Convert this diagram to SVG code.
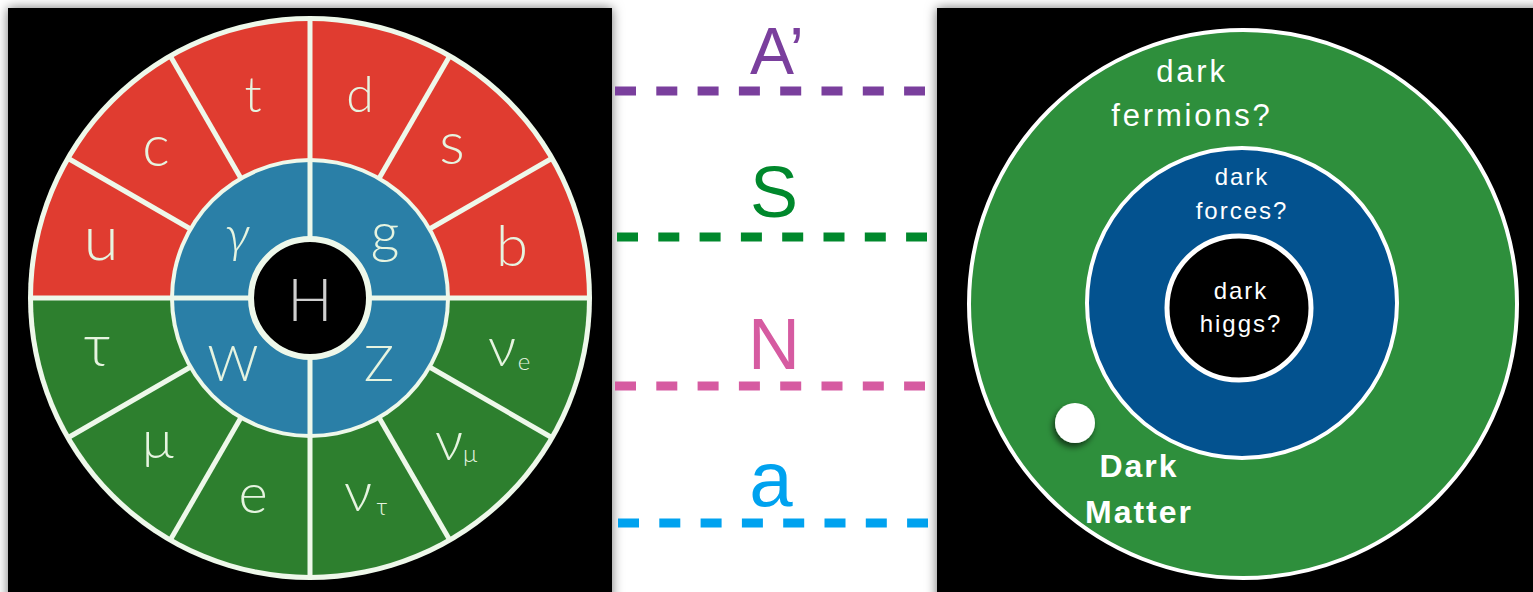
<svg xmlns="http://www.w3.org/2000/svg" width="1533" height="592" viewBox="0 0 1533 592">
<defs>
<filter id="sh" x="-10%" y="-10%" width="120%" height="120%">
<feDropShadow dx="0" dy="0" stdDeviation="6" flood-color="#000" flood-opacity="0.55"/>
</filter>
<filter id="dsh" x="-50%" y="-50%" width="200%" height="200%">
<feDropShadow dx="-2" dy="4" stdDeviation="3" flood-color="#000" flood-opacity="0.6"/>
</filter>
<style>
.div{stroke:#eef8ea;stroke-width:5;fill:none}
.sm{font-family:Lato,"Liberation Sans",sans-serif;font-weight:300;fill:#e6f4e0;text-anchor:middle}
.lbl{font-family:"Liberation Sans",Arial,sans-serif;text-anchor:middle}
.dash{stroke-width:9;stroke-dasharray:21 20.3;fill:none}
.dk{font-family:"Liberation Sans",Arial,sans-serif;fill:#fff;text-anchor:middle}
</style>
</defs>
<rect width="1533" height="592" fill="#fff"/>

<g id="standard-model">
<rect x="8" y="8" width="604" height="600" fill="#000" filter="url(#sh)"/>
<circle cx="310" cy="298" r="282" fill="#eef8ea"/>
<path d="M33,298 A277,277 0 0 1 587,298 Z" fill="#e03c30"/>
<path d="M33,298 A277,277 0 0 0 587,298 Z" fill="#2d7f2e"/>
<circle cx="310" cy="298" r="140" fill="#eef8ea"/>
<circle cx="310" cy="298" r="136" fill="#2a7fa7"/>
<g class="div">
<line x1="30" y1="298" x2="590" y2="298"/>
<line x1="310" y1="18" x2="310" y2="578"/>
<line x1="429.5" y1="229" x2="552.5" y2="158"/>
<line x1="379" y1="178.5" x2="450" y2="55.5"/>
<line x1="241" y1="178.5" x2="170" y2="55.5"/>
<line x1="190.5" y1="229" x2="67.5" y2="158"/>
<line x1="190.5" y1="367" x2="67.5" y2="438"/>
<line x1="241" y1="417.5" x2="170" y2="540.5"/>
<line x1="379" y1="417.5" x2="450" y2="540.5"/>
<line x1="429.5" y1="367" x2="552.5" y2="438"/>
</g>
<circle cx="310" cy="298" r="59" fill="#000" stroke="#eef8ea" stroke-width="6"/>
<text class="sm" x="101" y="260" font-size="64">u</text>
<text class="sm" x="156" y="166" font-size="58">c</text>
<text class="sm" x="253" y="112" font-size="50">t</text>
<text class="sm" x="360" y="112" font-size="50">d</text>
<text class="sm" x="452" y="164" font-size="60">s</text>
<text class="sm" x="512" y="266" font-size="58">b</text>
<text class="sm" x="97" y="366" font-size="60">τ</text>
<text class="sm" x="158" y="458" font-size="54">μ</text>
<text class="sm" x="253" y="513" font-size="56">e</text>
<text class="sm" x="358" y="511" font-size="56">ν</text>
<text class="sm" x="382" y="515" font-size="24">τ</text>
<text class="sm" x="449" y="460" font-size="56">ν</text>
<text class="sm" x="470" y="462" font-size="24">μ</text>
<text class="sm" x="502" y="366" font-size="56">ν</text>
<text class="sm" x="524" y="370" font-size="24">e</text>
<text class="sm" x="237" y="252" font-size="52" font-style="italic">γ</text>
<text class="sm" x="385" y="252" font-size="56">g</text>
<text class="sm" x="233" y="381" font-size="50">W</text>
<text class="sm" x="379" y="381" font-size="50">Z</text>
<text class="sm" x="310" y="321" font-size="60" style="fill:#cfcfcf">H</text>
</g>

<g id="connectors">
<line class="dash" x1="615" y1="91" x2="925" y2="91" stroke="#7a3f9d"/>
<line class="dash" x1="617" y1="237" x2="927" y2="237" stroke="#00882c"/>
<line class="dash" x1="615" y1="386" x2="925" y2="386" stroke="#d65ba1"/>
<line class="dash" x1="618" y1="523" x2="928" y2="523" stroke="#00a2ef"/>
<text class="lbl" x="777" y="74" font-size="66" fill="#7a3f9d">A’</text>
<text class="lbl" x="774" y="217" font-size="72" fill="#00882c">S</text>
<text class="lbl" x="774" y="369" font-size="72" fill="#d65ba1">N</text>
<text class="lbl" x="771" y="506" font-size="78" fill="#00a2ef">a</text>
</g>

<g id="dark-sector">
<rect x="937" y="8" width="620" height="600" fill="#000" filter="url(#sh)"/>
<circle cx="1243" cy="304" r="274" fill="#2e8f3c" stroke="#fff" stroke-width="4"/>
<circle cx="1242" cy="303" r="155" fill="#03528f" stroke="#fff" stroke-width="4"/>
<circle cx="1239" cy="308" r="72" fill="#000" stroke="#fff" stroke-width="5"/>
<text class="dk" x="1192" y="82" font-size="31" letter-spacing="2.8">dark</text>
<text class="dk" x="1192" y="126" font-size="31" letter-spacing="2.8">fermions?</text>
<text class="dk" x="1242" y="185" font-size="24" letter-spacing="2">dark</text>
<text class="dk" x="1242" y="219" font-size="24" letter-spacing="2">forces?</text>
<text class="dk" x="1241" y="299" font-size="24" letter-spacing="2">dark</text>
<text class="dk" x="1241" y="332" font-size="24" letter-spacing="2">higgs?</text>
<circle cx="1075" cy="423" r="20" fill="#fff" filter="url(#dsh)"/>
<text class="dk" x="1139" y="477" font-size="32" font-weight="bold" letter-spacing="2">Dark</text>
<text class="dk" x="1139" y="523" font-size="32" font-weight="bold" letter-spacing="2">Matter</text>
</g>
</svg>
